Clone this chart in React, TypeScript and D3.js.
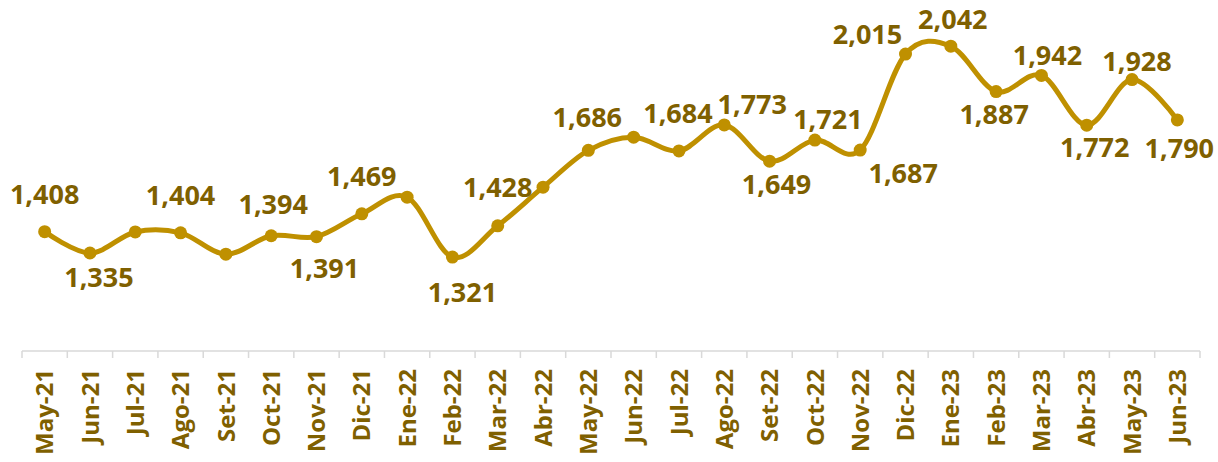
import React from "react";
import * as d3 from "d3";

const CATEGORIES = [
  "May-21", "Jun-21", "Jul-21", "Ago-21", "Set-21", "Oct-21", "Nov-21", "Dic-21",
  "Ene-22", "Feb-22", "Mar-22", "Abr-22", "May-22", "Jun-22", "Jul-22", "Ago-22",
  "Set-22", "Oct-22", "Nov-22", "Dic-22", "Ene-23", "Feb-23", "Mar-23", "Abr-23",
  "May-23", "Jun-23",
];

const VALUES = [
  1408, 1335, 1407, 1404, 1331, 1394, 1391, 1469,
  1526, 1321, 1428, 1560, 1686, 1731, 1684, 1773,
  1649, 1721, 1687, 2015, 2042, 1887, 1942, 1772,
  1928, 1790,
];

// which points carry a data label
const SHOW_LABEL = [
  true, true, false, true, false, true, true, true,
  false, true, true, false, true, false, true, true,
  true, true, true, true, true, true, true, true,
  true, true,
];

// label nudges relative to the point (dx, baseline dy)
const LABEL_NUDGE: [number, number][] = [
  [0, -28], [9, 34], [0, -28], [0, -28], [0, 30], [2, -22], [8, 41], [0, -28],
  [0, -28], [10, 45], [0, -29], [0, -28], [-1, -23], [0, -28], [-1, -28], [28, -11],
  [7, 33], [13, -11], [43, 33], [-38, -10], [2, -17], [-2, 32], [6, -10], [8, 32],
  [5, -9], [2, 38],
];

const Y_DOMAIN = [1000, 2200];

const W = 1218;
const H = 462;
const LINE = "#BF9000";
const TEXT = "#7F6000";
const FONT = "'Open Sans', 'Noto Sans', sans-serif";

export default function App() {
  const x = d3.scaleBand<string>().domain(CATEGORIES).range([22, 1200]).padding(0);
  const y = d3.scaleLinear().domain(Y_DOMAIN).range([351, 0]);
  const cx = (c: string) => (x(c) as number) + x.bandwidth() / 2;

  const pts = CATEGORIES.map((c, i) => [cx(c), y(VALUES[i])] as [number, number]);
  const line = d3.line<[number, number]>().curve(d3.curveCardinal.tension(0))(pts) || "";

  const tickXs = [...CATEGORIES.map((c) => x(c) as number), x.range()[1]];
  const axisY = y(Y_DOMAIN[0]);
  const fmt = d3.format(",");

  return (
    <svg
      width={W}
      height={H}
      style={{ position: "absolute", left: 0, top: 0, background: "#fff" }}
      fontFamily={FONT}
    >
      <rect x={0} y={0} width={W} height={H} fill="#fff" />
      {/* axis */}
      <line x1={tickXs[0]} x2={tickXs[tickXs.length - 1]} y1={axisY} y2={axisY} stroke="#D9D9D9" strokeWidth={1.5} />
      {tickXs.map((tx, i) => (
        <line key={"t" + i} x1={tx} x2={tx} y1={axisY} y2={axisY + 7} stroke="#D9D9D9" strokeWidth={1.5} />
      ))}
      {CATEGORIES.map((c) => (
        <text
          key={"l" + c}
          transform={`translate(${cx(c)},${axisY + 18}) rotate(-90)`}
          textAnchor="end"
          dy="0.36em"
          fontSize={24}
          fontWeight={700}
          fill={TEXT}
        >
          {c}
        </text>
      ))}
      {/* line */}
      <path d={line} fill="none" stroke={LINE} strokeWidth={5} strokeLinejoin="round" strokeLinecap="round" />
      {pts.map((p, i) => (
        <circle key={"c" + i} cx={p[0]} cy={p[1]} r={6.5} fill={LINE} />
      ))}
      {/* data labels */}
      {pts.map((p, i) =>
        SHOW_LABEL[i] ? (
          <text
            key={"d" + i}
            x={p[0] + LABEL_NUDGE[i][0]}
            y={p[1] + LABEL_NUDGE[i][1]}
            textAnchor="middle"
            fontSize={27}
            fontWeight={700}
            fill={TEXT}
          >
            {fmt(VALUES[i])}
          </text>
        ) : null
      )}
    </svg>
  );
}
